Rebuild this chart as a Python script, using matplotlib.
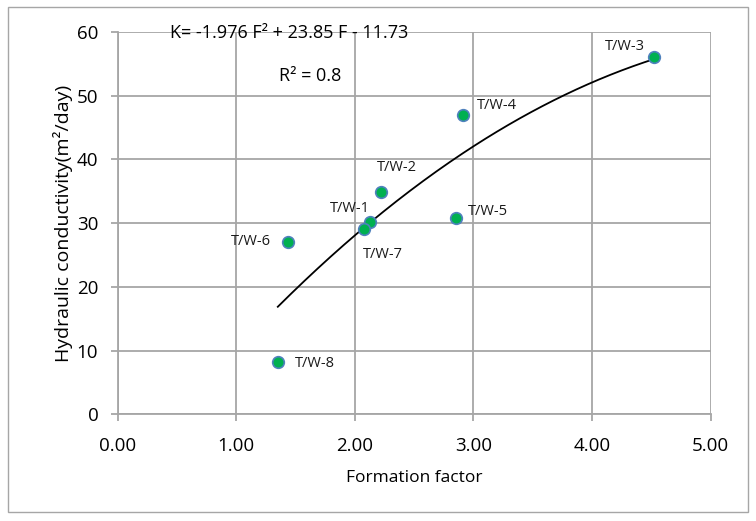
import matplotlib
matplotlib.use("Agg")
import matplotlib.pyplot as plt
import numpy as np
from matplotlib.patches import Rectangle

plt.rcParams['font.family'] = ['Open Sans', 'DejaVu Sans']

# wells: formation factor vs hydraulic conductivity
wells = ["T/W-1", "T/W-2", "T/W-3", "T/W-4", "T/W-5", "T/W-6", "T/W-7", "T/W-8"]
formation_factor = [2.13, 2.22, 4.52, 2.91, 2.85, 1.44, 2.08, 1.35]
conductivity = [30.1, 34.8, 56.1, 47.0, 30.8, 27.1, 29.0, 8.2]

# polynomial trendline shown on the chart
coef_a, coef_b, coef_c = -1.976, 23.85, -11.73
r_squared = 0.8

# label offsets in pixels (dx, dy, ha)
label_pos = {
    "T/W-1": (-20, 14, "center"),
    "T/W-2": (16, 25, "center"),
    "T/W-3": (-29, 10, "center"),
    "T/W-4": (14, 9, "left"),
    "T/W-5": (12, 6, "left"),
    "T/W-6": (-18, 0, "right"),
    "T/W-7": (19, -25, "center"),
    "T/W-8": (17, -1, "left"),
}

fig = plt.figure(figsize=(7.56, 5.21), dpi=100)
ax = fig.add_axes([0.1557, 0.2048, 0.7843, 0.7342])

grid_col = "#a6a6a6"

xs = np.linspace(min(formation_factor), max(formation_factor), 200)
ax.plot(xs, coef_a * xs**2 + coef_b * xs + coef_c, color="black", lw=1.3, zorder=3)

ax.scatter(formation_factor, conductivity, s=70, color="#00b050",
           edgecolors="#4f81bd", linewidths=1.2, zorder=4)

for name, fx, ky in zip(wells, formation_factor, conductivity):
    dx, dy, ha = label_pos[name]
    ax.annotate(name, (fx, ky), xytext=(dx, dy), textcoords="offset pixels",
                ha=ha, va="center", fontsize=10.5, color="#1a1a1a")

# equation box, positions in pixels from the top-left corner
eq1 = fig.text(289 / 756, 1 - 33 / 521,
               "K= %.3f F² + %.2f F - %.2f" % (coef_a, coef_b, -coef_c),
               ha="center", va="center", fontsize=13)
eq2 = fig.text(310 / 756, 1 - 76 / 521, "R² = %s" % r_squared,
               ha="center", va="center", fontsize=13)

ax.set_xlim(0, 5)
ax.set_ylim(0, 60)
ax.set_xticks(np.arange(0, 5.01, 1))
ax.set_xticklabels(["%.2f" % v for v in np.arange(0, 5.01, 1)])
ax.set_yticks(np.arange(0, 61, 10))
ax.grid(True, color=grid_col, lw=1.3)
ax.set_axisbelow(True)
for side in ["top", "right"]:
    ax.spines[side].set_visible(False)
for side in ["left", "bottom"]:
    ax.spines[side].set_color(grid_col)
    ax.spines[side].set_linewidth(1.3)
ax.tick_params(axis="both", colors=grid_col, labelcolor="black", labelsize=13.5,
               length=5, width=1.3)
ax.tick_params(axis="x", pad=11)
ax.tick_params(axis="y", pad=9)

ax.set_xlabel("Formation factor", fontsize=12.5, labelpad=11)
ax.set_ylabel("Hydraulic conductivity(m²/day)", fontsize=14, labelpad=3)

fig.patches.append(Rectangle((8 / 756, 9 / 521), 740 / 756, 505 / 521,
                             transform=fig.transFigure, fill=False,
                             edgecolor="#a6a6a6", lw=1.0))

fig.savefig("out.png", dpi=100)
